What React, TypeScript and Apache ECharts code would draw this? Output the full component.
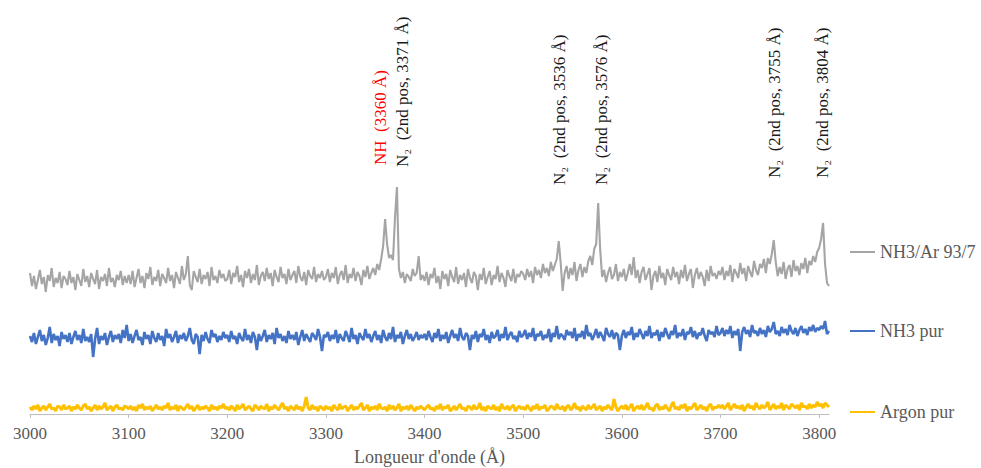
import React, { useEffect, useRef } from "react";
import * as echarts from "echarts";

// Sampling grid of the spectra (Å)
const WAVELENGTH_START = 3000;
const WAVELENGTH_STEP = 2;

const xTicks = [3000, 3100, 3200, 3300, 3400, 3500, 3600, 3700, 3800];

// NH3/Ar 93/7 (arbitrary intensity)
const nh3ArValues = [
  141,128,138,125,134,144,130,137,122,139,133,146,127,136,131,142,126,138,135,129,
  143,131,137,124,140,134,128,145,132,138,127,141,135,130,144,125,137,133,140,128,
  146,132,136,127,139,134,143,129,138,131,
  139,130,143,127,136,145,131,138,126,141,135,147,129,137,133,144,128,140,136,131,
  146,133,139,126,142,136,130,148,134,140,158,129,124,143,137,132,145,130,139,135,
  142,128,147,134,138,131,144,136,140,133,
  135,144,130,141,137,148,132,139,127,143,136,145,131,140,134,149,129,138,142,133,
  146,135,141,128,144,137,132,147,136,140,130,145,134,139,143,131,148,137,133,142,
  129,144,138,135,147,132,140,136,143,134,
  137,145,132,141,136,147,130,139,143,134,149,131,140,136,146,133,142,138,129,144,
  137,148,135,141,146,139,150,144,155,168,195,170,156,159,154,196,227,145,136,142,
  131,140,137,133,145,138,141,158,134,139,
  133,142,129,140,136,146,131,138,125,143,135,140,128,144,137,132,147,130,139,134,
  141,127,145,136,131,142,138,124,140,134,146,130,137,143,129,139,135,148,132,141,
  136,127,144,138,133,145,131,140,137,143,
  140,134,145,137,143,131,147,139,144,136,150,141,146,138,152,143,149,155,173,151,
  123,141,148,135,146,139,152,133,144,150,137,147,141,153,158,149,165,170,211,165,
  137,144,132,141,147,135,139,150,133,142,
  137,145,133,141,150,139,157,136,144,131,142,147,134,140,146,124,138,143,132,148,
  136,141,129,145,139,134,147,137,142,130,144,136,149,133,140,145,126,139,146,135,
  142,137,128,144,133,148,138,141,135,143,
  139,147,134,143,138,149,132,145,141,136,151,140,146,133,148,142,137,153,144,139,
  150,146,155,141,156,150,160,174,152,138,147,140,152,135,145,149,137,154,143,148,
  139,151,145,156,141,153,149,158,152,162,
  166,175,191,150,131,128,
];

// NH3 pur
const nh3Values = [
  78,72,81,70,77,84,73,79,69,76,87,71,80,74,78,68,82,75,79,72,
  81,70,77,83,74,79,71,85,73,77,72,80,57,75,86,70,78,74,81,69,
  77,83,72,79,75,80,71,84,76,89,
  73,80,71,78,84,74,77,69,82,75,79,70,83,76,72,81,74,78,68,85,
  76,80,72,77,83,71,79,75,81,73,78,86,74,70,80,77,60,79,73,82,
  75,71,84,77,80,72,78,74,82,76,
  79,72,83,75,78,70,81,76,73,85,74,79,71,82,77,64,80,73,78,84,
  72,79,75,81,70,86,76,80,73,78,71,83,75,79,74,82,69,77,84,73,
  80,76,72,81,78,74,85,77,63,79,
  77,82,73,79,75,84,71,80,76,73,83,78,72,86,75,79,70,81,77,74,
  85,76,80,72,78,83,74,79,71,84,77,73,81,75,87,72,79,76,82,70,
  78,84,75,80,73,77,82,74,79,76,
  80,74,83,77,72,81,76,85,73,79,75,82,71,78,84,76,80,73,86,77,
  74,81,78,64,79,75,83,72,80,77,85,74,79,71,82,76,78,84,73,80,
  76,87,74,79,82,75,78,72,83,77,
  79,84,75,81,77,86,73,80,78,83,74,79,76,85,72,81,77,88,75,80,
  78,74,84,79,82,76,86,73,80,77,83,75,89,78,81,74,79,85,76,82,
  78,73,86,80,77,84,75,81,79,64,
  78,84,76,82,79,87,74,81,77,85,80,75,83,78,88,76,81,79,84,73,
  82,77,86,80,75,83,79,89,76,81,78,85,74,82,80,87,77,83,75,81,
  79,86,78,73,84,80,82,77,88,79,
  81,86,78,84,80,88,76,83,79,85,63,82,87,80,84,77,89,81,83,78,
  86,80,84,77,88,82,85,92,80,83,78,87,81,85,79,89,83,80,86,78,
  84,88,81,85,79,87,83,89,82,86,
  84,88,85,93,80,83,
];

// Argon pur
const argonValues = [
  7,4,8,5,9,3,6,8,4,7,10,5,6,3,8,7,4,9,5,6,
  8,3,7,5,9,6,4,8,10,5,7,3,6,9,4,8,5,7,11,4,
  6,8,3,7,9,5,6,4,8,7,
  5,8,4,7,3,9,6,10,4,7,5,8,3,6,9,5,7,4,8,6,
  11,4,7,5,9,3,8,6,4,7,10,5,8,3,6,9,4,7,5,8,
  6,3,9,5,7,4,8,6,10,5,
  7,4,8,6,3,9,5,7,10,4,6,8,5,3,9,7,4,8,6,5,
  10,3,7,5,9,6,4,8,11,5,7,3,8,6,4,9,5,7,3,8,
  17,6,4,9,5,7,3,8,6,4,
  8,5,7,3,9,6,4,10,5,7,8,3,6,9,4,7,5,8,11,4,
  6,9,3,7,5,8,4,10,6,5,7,3,9,5,8,4,6,10,3,7,
  5,8,4,9,6,3,7,5,8,6,
  4,7,9,5,6,3,8,5,10,4,7,6,9,3,5,8,4,7,10,5,
  6,3,8,7,4,9,5,6,11,4,7,3,8,6,5,9,4,7,3,10,
  6,5,8,4,7,9,3,6,8,5,
  7,4,9,6,3,8,5,10,4,7,6,9,3,5,8,7,4,10,6,5,
  8,3,7,9,4,6,11,5,7,3,8,6,4,9,5,7,10,4,6,8,
  3,7,5,9,6,4,15,7,3,6,
  8,5,9,4,7,10,3,6,8,5,9,4,7,11,5,6,3,8,10,4,
  7,5,9,6,3,8,12,5,7,4,9,6,10,3,7,5,8,11,4,6,
  9,5,7,3,8,10,4,7,6,9,
  6,9,5,8,11,4,7,10,6,8,5,9,3,7,10,6,8,4,11,7,
  5,9,6,8,12,4,7,10,5,8,6,11,4,9,7,5,10,8,6,9,
  4,11,7,8,5,10,6,9,7,12,
  8,10,6,11,9,7,
];

const seriesNames = ["NH3/Ar 93/7", "NH3 pur", "Argon pur"];
const seriesColors = ["#A5A5A5", "#4472C4", "#FFC000"];
const seriesWidths = [2.1, 2.6, 3];

// Annotations (text start position in data coords)
const annotationTexts = [
  "NH  (3360 Å)",
  "N₂  (2nd pos, 3371 Å)",
  "N₂  (2nd pos, 3536 Å)",
  "N₂  (2nd pos, 3576 Å)",
  "N₂  (2nd pos, 3755 Å)",
  "N₂  (2nd pos, 3804 Å)",
];
const annotationWavelengths = [3355, 3378, 3537, 3579, 3755, 3803];
const annotationHeights = [249, 247, 229, 229, 236, 236];
const annotationColors = ["#FF0000", "#1a1a1a", "#1a1a1a", "#1a1a1a", "#1a1a1a", "#1a1a1a"];

const FONT = "'Liberation Serif', 'DejaVu Serif', serif";

function toPairs(values: number[]) {
  return values.map((v, i) => [WAVELENGTH_START + i * WAVELENGTH_STEP, v]);
}

export default function App() {
  const ref = useRef<HTMLDivElement>(null);

  useEffect(() => {
    if (!ref.current) return;
    const chart = echarts.init(ref.current, undefined, { renderer: "svg" });
    const allValues = [nh3ArValues, nh3Values, argonValues];
    const legendTops = [238, 317, 398];

    const option: any = {
      animation: false,
      textStyle: { fontFamily: FONT },
      grid: {
        left: 30,
        right: 152,
        top: 14,
        bottom: 54,
        containLabel: false,
        outerBoundsMode: "none",
      },
      xAxis: {
        type: "value",
        min: 3000,
        max: 3810,
        interval: 100,
        name: "Longueur d'onde (Å)",
        nameLocation: "middle",
        nameGap: 34,
        nameTextStyle: { color: "#595959", fontSize: 18, fontFamily: FONT },
        axisLine: { show: true, lineStyle: { color: "#BFBFBF", width: 1 } },
        axisTick: { show: true, length: 4, lineStyle: { color: "#BFBFBF" } },
        axisLabel: {
          color: "#595959",
          fontSize: 17,
          fontFamily: FONT,
          margin: 11,
          showMaxLabel: false,
          formatter: (v: number) => (xTicks.includes(v) ? String(v) : ""),
        },
        splitLine: { show: false },
      },
      yAxis: { type: "value", min: 0, max: 400, show: false },
      legend: seriesNames.map((name, i) => ({
        data: [name],
        orient: "vertical",
        left: 845,
        top: legendTops[i],
        icon: "rect",
        itemWidth: 25,
        itemHeight: 2,
        textStyle: { color: "#595959", fontSize: 18, fontFamily: FONT },
        selectedMode: false,
      })),
      series: seriesNames.map((name, i) => ({
        name,
        type: "line",
        data: toPairs(allValues[i]),
        showSymbol: false,
        symbol: "none",
        lineStyle: { color: seriesColors[i], width: seriesWidths[i] },
        itemStyle: { color: seriesColors[i] },
        z: 2 + i,
        markPoint:
          i === 0
            ? {
                symbol: "circle",
                symbolSize: 0,
                silent: true,
                label: {
                  show: true,
                  rotate: 90,
                  position: "inside",
                  align: "left",
                  verticalAlign: "middle",
                  fontSize: 17,
                  fontFamily: FONT,
                },
                data: annotationTexts.map((t, k) => ({
                  coord: [annotationWavelengths[k], annotationHeights[k]],
                  label: { formatter: t, color: annotationColors[k] },
                })),
              }
            : undefined,
      })),
    };
    chart.setOption(option);
    return () => chart.dispose();
  }, []);

  return (
    <div
      ref={ref}
      style={{ position: "fixed", left: 0, top: 0, width: 981, height: 468, background: "#fff" }}
    />
  );
}
